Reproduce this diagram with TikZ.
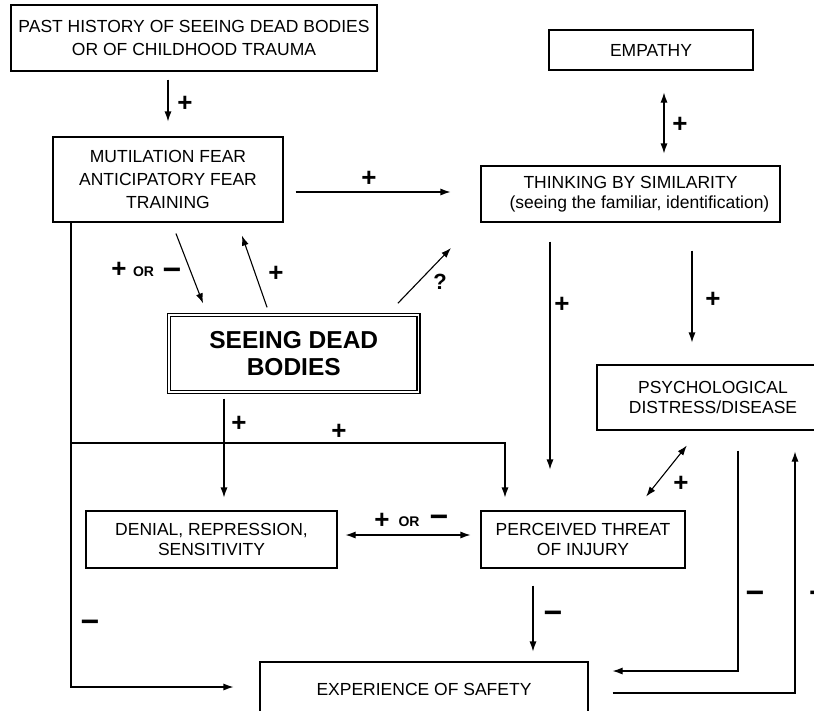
\documentclass[tikz,border=0pt]{standalone}
\usepackage{fontspec}
\setmainfont{Liberation Sans}
\usetikzlibrary{arrows.meta}
\begin{document}
\begin{tikzpicture}[x=1pt,y=-1pt,
 box/.style={draw, line width=1.1pt, align=center, inner sep=0pt, font=\fontsize{17.5}{23}\selectfont},
 tight/.style={font=\fontsize{17.5}{20.5}\selectfont},
 arr/.style={-{Latex[length=10pt,width=7pt]}, line width=1.1pt},
 dbl/.style={{Latex[length=10pt,width=7pt]}-{Latex[length=10pt,width=7pt]}, line width=1.1pt},
 pl/.style={font=\fontsize{26}{26}\selectfont\bfseries, inner sep=0pt},
 mi/.style={font=\fontsize{32}{32}\selectfont\bfseries, inner sep=0pt},
 orl/.style={font=\fontsize{14}{14}\selectfont\bfseries, inner sep=0pt}]
\path[use as bounding box, fill=white] (0,0) rectangle (814,710);

% boxes
\node[box, minimum width=366, minimum height=66] (past) at (194,38) {PAST HISTORY OF SEEING DEAD BODIES\\OR OF CHILDHOOD TRAUMA};
\node[box, minimum width=204, minimum height=40] (emp) at (651,50) {EMPATHY};
\node[box, minimum width=230, minimum height=85] (mut) at (168,179.5) {MUTILATION FEAR\\ANTICIPATORY FEAR\\TRAINING};
\node[box, tight, minimum width=299, minimum height=56] (think) at (630.5,194) {THINKING BY SIMILARITY\\\hspace*{18pt}(seeing the familiar, identification)};
\node[box, double, line width=1.3pt, double distance=1.6pt, minimum width=249.5, minimum height=77,
      font=\fontsize{24.5}{27.5}\selectfont\bfseries] (seeing) at (293.75,353.5) {SEEING DEAD\\BODIES};
\node[box, tight, minimum width=232, minimum height=65] (psych) at (713,397.5) {PSYCHOLOGICAL\\DISTRESS/DISEASE};
\node[box, tight, minimum width=251, minimum height=57] (denial) at (211.5,539.5) {DENIAL, REPRESSION,\\SENSITIVITY};
\node[box, tight, minimum width=204, minimum height=57] (perc) at (583,539.5) {PERCEIVED THREAT\\OF INJURY};
\node[box, minimum width=328, minimum height=54] (safety) at (424,689) {EXPERIENCE OF SAFETY};

% connectors
\draw[arr, shorten <=8pt, shorten >=15pt] (past.south -| mut.north) -- (mut.north);
\draw[dbl, shorten <=22pt, shorten >=12pt] (emp.south -| 664,0) -- (think.north -| 664,0);
\draw[arr, shorten <=12pt, shorten >=30pt] (mut.east |- 0,192) -- (think.west |- 0,192);
\draw[arr, shorten <=11.8pt, shorten >=11.8pt] (mut.south -| 171.7,0) -- (seeing.north -| 207.3,0);
\draw[arr, shorten <=7.4pt, shorten >=13.8pt] (seeing.north -| 269.5,0) -- (mut.south -| 237.4,0);
\coordinate (qend) at (451,248);
\draw[arr, shorten <=15.4pt] (seeing.north -| 387.2,0) -- (qend);
\draw[arr, shorten <=19pt, shorten >=41pt] (think.south -| 550,0) -- (perc.north -| 550,0);
\draw[arr, shorten <=28pt, shorten >=22pt] (think.south -| 692,0) -- (psych.north -| 692,0);
\draw[arr, shorten <=6pt, shorten >=13pt] (seeing.south -| 224,0) -- (denial.north -| 224,0);
\draw[arr, shorten >=13pt] (mut.south -| 71,0) -- (71,443) -| (perc.north -| 505,0);
\draw[arr, shorten >=26pt] (mut.south -| 71,0) |- (safety.west |- 0,687);
\draw[dbl, shorten <=8pt, shorten >=10pt] (denial.east |- 0,535) -- (perc.west |- 0,535);
\draw[dbl, shorten <=17.8pt, shorten >=19.1pt] (perc.north -| 635,0) -- (psych.south -| 698.8,0);
\draw[arr, shorten <=17pt, shorten >=10pt] (perc.south -| 533,0) -- (safety.north -| 533,0);
\draw[arr, shorten <=20pt, shorten >=24pt] (psych.south -| 738,0) |- (safety.east |- 0,671);
\draw[arr, shorten <=24pt, shorten >=21pt] (safety.east |- 0,693) -| (psych.south -| 795,0);

% labels
\node[pl] (s1) at (185,104) {+};
\node[pl] (s2) at (680,125) {+};
\node[pl] (s3) at (369,179) {+};
\node[pl] (s4a) at (119,270) {+};
\node[orl] (s4b) at (143.5,272) {OR};
\node[mi] (s4c) at (172,274) {−};
\node[pl] (s5) at (276,274) {+};
\node[font=\fontsize{22}{22}\selectfont\bfseries, inner sep=0pt] (s6) at (440,282) {?};
\node[pl] (s7) at (562,305) {+};
\node[pl] (s8) at (713,300) {+};
\node[pl] (s9) at (239,424) {+};
\node[pl] (s10) at (339,432) {+};
\node[mi] (s11) at (90,626) {−};
\node[pl] (s12a) at (382,521) {+};
\node[orl] (s12b) at (409,522) {OR};
\node[mi] (s12c) at (439,521) {−};
\node[pl] (s13) at (681,484) {+};
\node[mi] (s14) at (553,617) {−};
\node[mi] (s15) at (755,597) {−};
\node[mi, anchor=west] (s16) at (809,597) {−};
\end{tikzpicture}
\end{document}
